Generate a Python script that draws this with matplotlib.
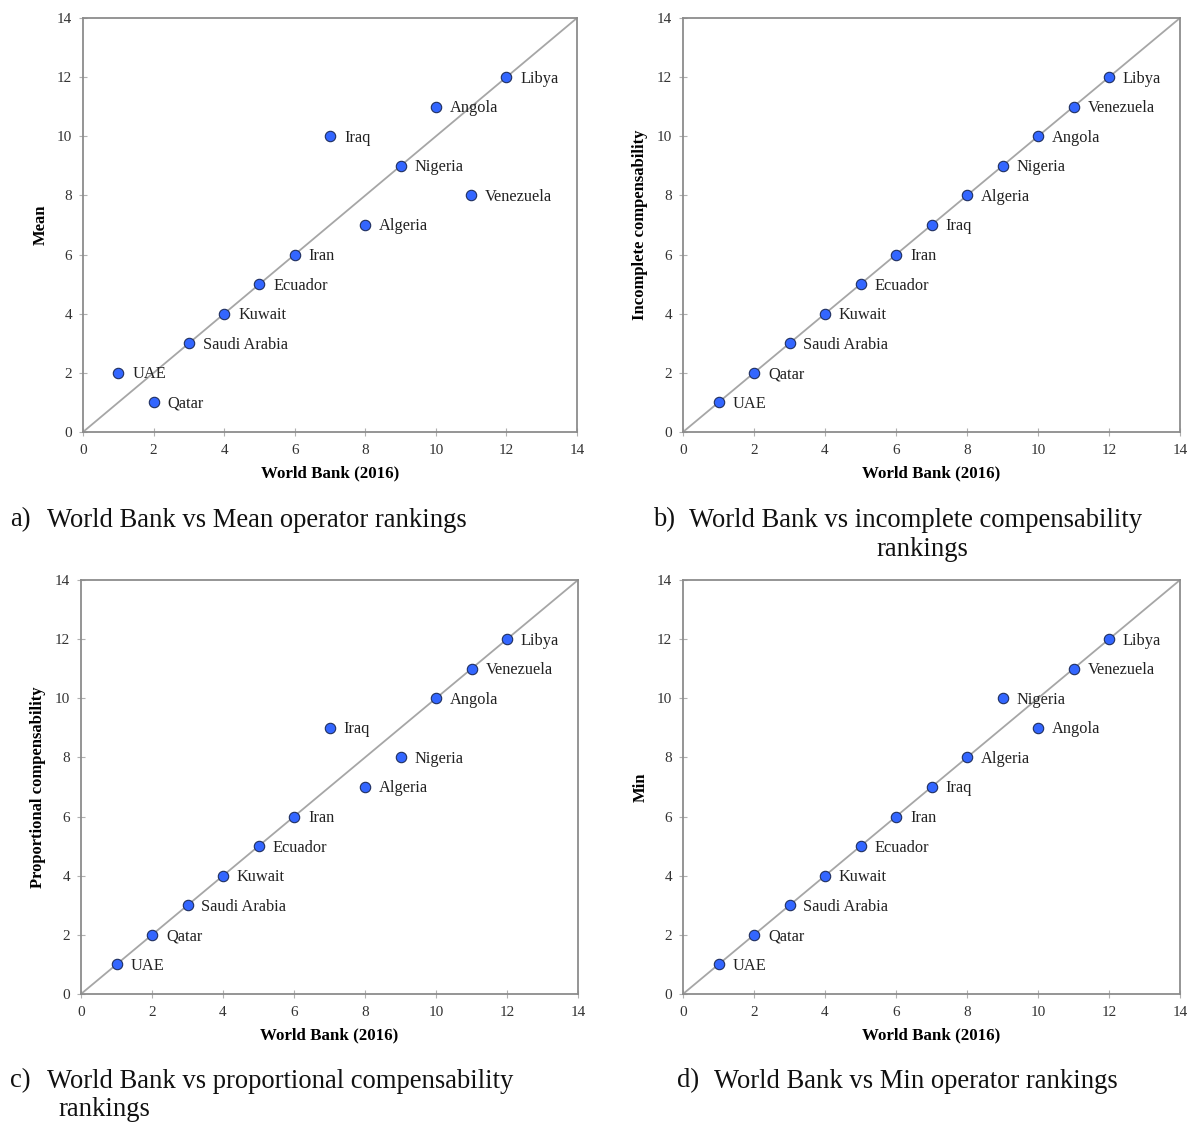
import numpy as np
import matplotlib.pyplot as plt

plt.rcParams['font.family'] = ['Liberation Serif', 'DejaVu Serif']

countries = ['UAE', 'Qatar', 'Saudi Arabia', 'Kuwait', 'Ecuador', 'Iran',
             'Iraq', 'Algeria', 'Nigeria', 'Angola', 'Venezuela', 'Libya']
world_bank = [1, 2, 3, 4, 5, 6, 7, 8, 9, 10, 11, 12]
mean_rank = [2, 1, 3, 4, 5, 6, 10, 7, 9, 11, 8, 12]
incomplete_rank = [1, 2, 3, 4, 5, 6, 7, 8, 9, 10, 11, 12]
proportional_rank = [1, 2, 3, 4, 5, 6, 9, 7, 8, 10, 11, 12]
min_rank = [1, 2, 3, 4, 5, 6, 7, 8, 10, 9, 11, 12]

ylabels = ['Mean', 'Incomplete compensability', 'Proportional compensability', 'Min']
series = [mean_rank, incomplete_rank, proportional_rank, min_rank]

W, H = 1192, 1124
fig = plt.figure(figsize=(W / 100, H / 100), dpi=100)

# axes boxes in pixels: left, top, right, bottom
boxes = [(83, 18, 577, 432), (683, 18, 1180, 432),
         (81, 580, 578, 994), (683, 580, 1180, 994)]

for (l, t, r, b), ys, lab in zip(boxes, series, ylabels):
    ax = fig.add_axes([l / W, 1 - b / H, (r - l) / W, (b - t) / H])
    ax.plot([0, 14], [0, 14], color='#a6a6a6', lw=1.3, zorder=1)
    ax.plot(world_bank, ys, 'o', ms=7.5, color='#3366ff', mec='#1f2f5f', mew=0.8, zorder=3)
    for x, y, c in zip(world_bank, ys, countries):
        ax.annotate(c, (x, y), xytext=(10, -1), textcoords='offset points',
                    va='center', ha='left', fontsize=11.8, color='#222222')
    ax.set_xlim(0, 14)
    ax.set_ylim(0, 14)
    ax.set_xticks(np.arange(0, 15, 2))
    ax.set_yticks(np.arange(0, 15, 2))
    for s in ax.spines.values():
        s.set_color('#8c8c8c')
        s.set_linewidth(1.3)
    ax.tick_params(direction='inout', length=6, color='#b0b0b0', labelsize=11,
                   labelcolor='#333333')
    ax.tick_params(axis='x', pad=6)
    ax.tick_params(axis='y', pad=5)
    ax.set_xlabel('World Bank (2016)', fontweight='bold', fontsize=12.2, labelpad=6)
    ax.set_ylabel(lab, fontweight='bold', fontsize=12, labelpad=6)

cap = dict(fontsize=19.2, color='#111111', va='center')
fig.text(10 / W, 1 - 520 / H, 'a)', **cap)
fig.text(47 / W, 1 - 520 / H, 'World Bank vs Mean operator rankings', **cap)
fig.text(653 / W, 1 - 520 / H, 'b)', **cap)
fig.text(689 / W, 1 - 520 / H, 'World Bank vs incomplete compensability', **cap)
fig.text(922 / W, 1 - 550 / H, 'rankings', ha='center', fontsize=19.2, color='#111111', va='center')
fig.text(10 / W, 1 - 1081 / H, 'c)', **cap)
fig.text(47 / W, 1 - 1081 / H, 'World Bank vs proportional compensability', **cap)
fig.text(58 / W, 1 - 1110 / H, 'rankings', **cap)
fig.text(677 / W, 1 - 1081 / H, 'd)', **cap)
fig.text(714 / W, 1 - 1081 / H, 'World Bank vs Min operator rankings', **cap)

fig.savefig('out.png', dpi=100, facecolor='white')
